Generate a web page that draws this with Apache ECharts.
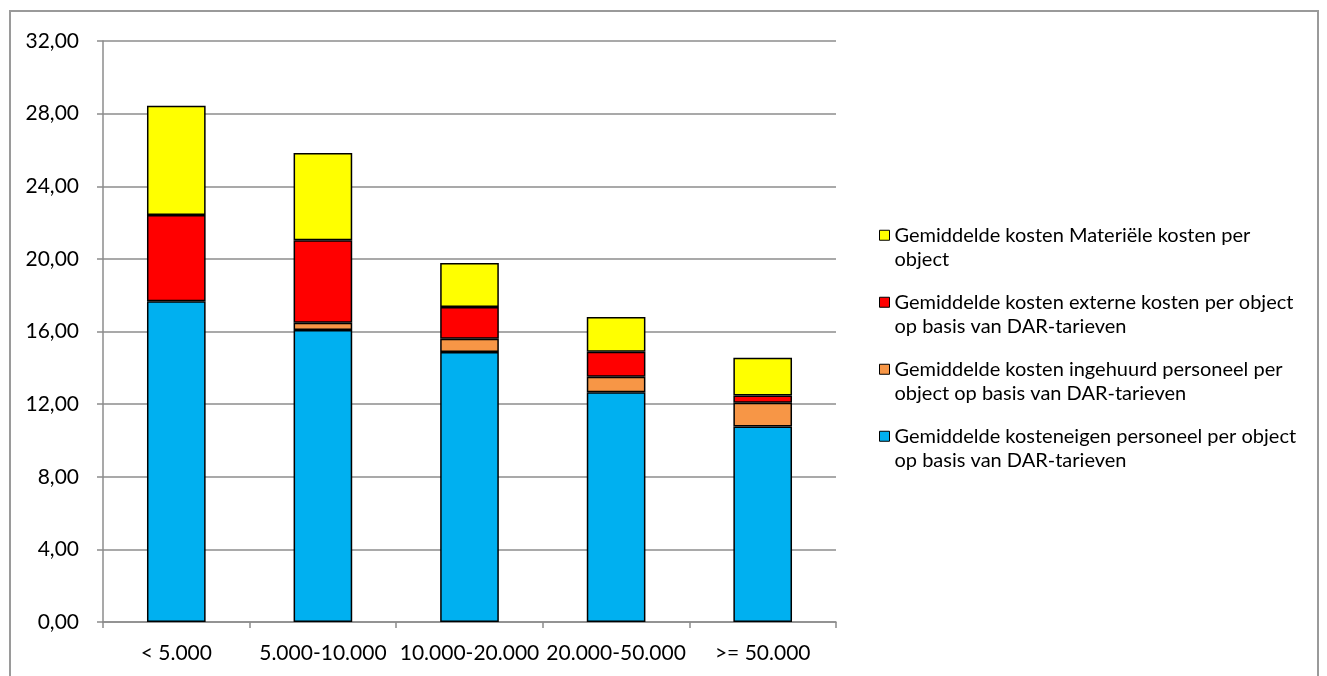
<!DOCTYPE html>
<html>
<head>
<meta charset="utf-8">
<script src="https://cdn.jsdelivr.net/npm/echarts@6/dist/echarts.min.js"></script>
<style>
html,body{margin:0;padding:0;background:#fff;}
#wrap{position:relative;width:1327px;height:676px;overflow:hidden;}
#frame{position:absolute;left:9px;top:10px;width:1310px;height:700px;border:2px solid #9a9a9a;box-sizing:border-box;}
#chart{position:absolute;left:0;top:0;width:1327px;height:676px;}
</style>
</head>
<body>
<div id="wrap"><div id="frame"></div><div id="chart"></div></div>
<script>
const categories = ['< 5.000', '5.000-10.000', '10.000-20.000', '20.000-50.000', '>= 50.000'];
const eigenPersoneel = [17.66, 16.08, 14.87, 12.65, 10.77];
const ingehuurdPersoneel = [0, 0.40, 0.73, 0.86, 1.31];
const externeKosten = [4.75, 4.54, 1.75, 1.38, 0.40];
const materieleKosten = [6.03, 4.81, 2.42, 1.91, 2.08];
const yTicks = { min: 0, max: 32, interval: 4 };

const names = [
  'Gemiddelde kosteneigen personeel per object op basis van DAR-tarieven',
  'Gemiddelde kosten ingehuurd personeel per object op basis van DAR-tarieven',
  'Gemiddelde kosten externe kosten per object op basis van DAR-tarieven',
  'Gemiddelde kosten Materiële kosten per object'
];
const legendLabels = {};
legendLabels[names[0]] = 'Gemiddelde kosteneigen personeel per object\nop basis van DAR-tarieven';
legendLabels[names[1]] = 'Gemiddelde kosten ingehuurd personeel per\nobject op basis van DAR-tarieven';
legendLabels[names[2]] = 'Gemiddelde kosten externe kosten per object\nop basis van DAR-tarieven';
legendLabels[names[3]] = 'Gemiddelde kosten Materiële kosten per\nobject';
const colors = ['#00B0F0', '#F79646', '#FF0000', '#FFFF00'];
const values = [eigenPersoneel, ingehuurdPersoneel, externeKosten, materieleKosten];

const FONT = 'Lato';
// square icon sitting at the top of a taller (transparent) box so it lines up with the first text line
const ICON = 'path://M0,0L10,0L10,10L0,10Z M0,34.5';
const chart = echarts.init(document.getElementById('chart'), null, { renderer: 'canvas' });
chart.setOption({
  animation: false,
  backgroundColor: 'transparent',
  textStyle: { fontFamily: FONT },
  grid: { left: 103, right: 491, top: 41, bottom: 54, containLabel: false },
  legend: {
    orient: 'vertical',
    left: 879,
    top: 223,
    padding: 0,
    itemGap: 18,
    itemWidth: 10,
    itemHeight: 34.5,
    icon: ICON,
    data: [names[3], names[2], names[1], names[0]],
    formatter: n => legendLabels[n],
    textStyle: { fontFamily: FONT, fontSize: 20, color: '#000', lineHeight: 24.5 },
    itemStyle: { borderColor: '#000', borderWidth: 1 }
  },
  xAxis: {
    type: 'category',
    data: categories,
    axisLine: { lineStyle: { color: '#8c8c8c', width: 1.5 } },
    axisTick: { show: true, length: 6, lineStyle: { color: '#8c8c8c', width: 1.5 } },
    axisLabel: { color: '#000', fontFamily: FONT, fontSize: 21, margin: 21, interval: 0 }
  },
  yAxis: {
    type: 'value',
    min: yTicks.min, max: yTicks.max, interval: yTicks.interval,
    axisLine: { show: true, lineStyle: { color: '#8c8c8c', width: 1.5 } },
    axisTick: { show: true, length: 6, lineStyle: { color: '#8c8c8c', width: 1.5 } },
    splitLine: { show: true, lineStyle: { color: '#8c8c8c', width: 1.5 } },
    axisLabel: { color: '#000', fontFamily: FONT, fontSize: 21, margin: 24,
      formatter: v => v.toFixed(2).replace('.', ',') }
  },
  series: values.map((arr, i) => ({
    name: names[i],
    type: 'bar',
    stack: 'total',
    barWidth: '40%',
    // a zero segment is not drawn (avoids a doubled border line)
    data: arr.map(v => (v === 0 ? '-' : v)),
    itemStyle: { color: colors[i], borderColor: '#000', borderWidth: 1.5 }
  }))
});
</script>
</body>
</html>
